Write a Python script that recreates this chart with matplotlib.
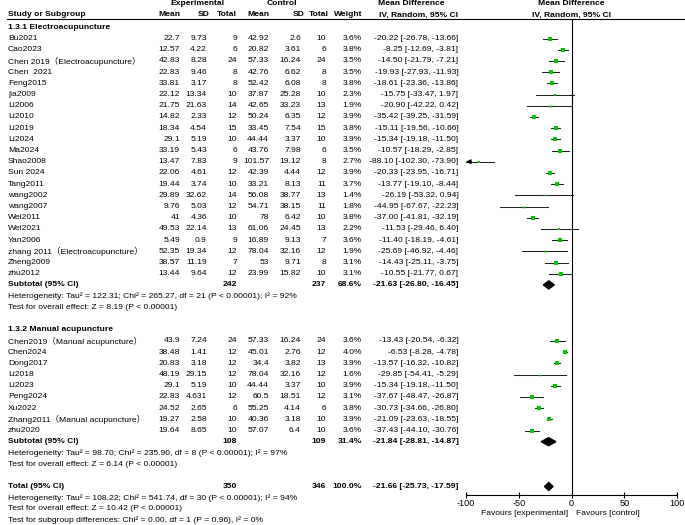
import matplotlib
matplotlib.use('Agg')
import matplotlib.pyplot as plt
from matplotlib.patches import Polygon

plt.rcParams['font.family'] = ['Liberation Sans', 'Noto Sans CJK SC', 'DejaVu Sans']

# ---- data ----
studies1 = ['Bu2021', 'Cao2023', 'Chen 2019（Electroacupuncture）', 'Chen  2021', 'Feng2015',
            'jia2009', 'Li2006', 'Li2010', 'Li2019', 'Li2024', 'Ma2024', 'Shao2008', 'Sun 2024',
            'Tang2011', 'wang2002', 'wang2007', 'Wei2011', 'Wei2021', 'Yan2006',
            'zhang 2011（Electroacupuncture）', 'Zheng2009', 'zhu2012']
exp_mean1 = [22.7, 12.57, 42.83, 22.83, 33.81, 22.12, 21.75, 14.82, 18.34, 29.1, 33.19, 13.47, 22.06,
             19.44, 29.89, 9.76, 41, 49.53, 5.49, 52.35, 38.57, 13.44]
exp_sd1 = [9.73, 4.22, 8.28, 9.46, 3.17, 13.34, 21.63, 2.33, 4.54, 5.19, 5.43, 7.83, 4.61,
           3.74, 32.62, 5.03, 4.36, 22.14, 0.9, 19.34, 11.19, 9.64]
exp_n1 = [9, 6, 24, 8, 8, 10, 14, 12, 15, 10, 6, 9, 12, 10, 14, 12, 10, 13, 9, 12, 7, 12]
ctl_mean1 = [42.92, 20.82, 57.33, 42.76, 52.42, 37.87, 42.65, 50.24, 33.45, 44.44, 43.76, 101.57, 42.39,
             33.21, 56.08, 54.71, 78, 61.06, 16.89, 78.04, 53, 23.99]
ctl_sd1 = [2.6, 3.61, 16.24, 6.62, 6.08, 25.28, 33.23, 6.35, 7.54, 3.37, 7.98, 19.12, 4.44,
           8.13, 38.77, 38.15, 6.42, 24.45, 9.13, 32.16, 9.71, 15.82]
ctl_n1 = [10, 6, 24, 8, 8, 10, 13, 12, 15, 10, 6, 8, 12, 11, 13, 11, 10, 13, 7, 12, 8, 10]
weight1 = [3.6, 3.8, 3.5, 3.5, 3.8, 2.3, 1.9, 3.9, 3.8, 3.9, 3.5, 2.7, 3.9,
           3.7, 1.4, 1.8, 3.8, 2.2, 3.6, 1.9, 3.1, 3.1]
md1 = [-20.22, -8.25, -14.50, -19.93, -18.61, -15.75, -20.90, -35.42, -15.11, -15.34, -10.57, -88.10, -20.33,
       -13.77, -26.19, -44.95, -37.00, -11.53, -11.40, -25.69, -14.43, -10.55]
lo1 = [-26.78, -12.69, -21.79, -27.93, -23.36, -33.47, -42.22, -39.25, -19.56, -19.18, -18.29, -102.30, -23.95,
       -19.10, -53.32, -67.67, -41.81, -29.46, -18.19, -46.92, -25.11, -21.77]
hi1 = [-13.66, -3.81, -7.21, -11.93, -13.86, 1.97, 0.42, -31.59, -10.66, -11.50, -2.85, -73.90, -16.71,
       -8.44, 0.94, -22.23, -32.19, 6.40, -4.61, -4.46, -3.75, 0.67]

studies2 = ['Chen2019（Manual acupuncture）', 'Chen2024', 'Dong2017', 'Li2018', 'Li2023', 'Peng2024',
            'Xu2022', 'Zhang2011（Manual acupuncture）', 'zhu2020']
exp_mean2 = [43.9, 38.48, 20.83, 48.19, 29.1, 22.83, 24.52, 19.27, 19.64]
exp_sd2 = [7.24, 1.41, 3.18, 29.15, 5.19, 4.631, 2.65, 2.58, 8.65]
exp_n2 = [24, 12, 12, 12, 10, 12, 6, 10, 10]
ctl_mean2 = [57.33, 45.01, 34.4, 78.04, 44.44, 60.5, 55.25, 40.36, 57.07]
ctl_sd2 = [16.24, 2.76, 3.82, 32.16, 3.37, 18.51, 4.14, 3.18, 6.4]
ctl_n2 = [24, 12, 13, 12, 10, 12, 6, 10, 10]
weight2 = [3.6, 4.0, 3.9, 1.6, 3.9, 3.1, 3.8, 3.9, 3.6]
md2 = [-13.43, -6.53, -13.57, -29.85, -15.34, -37.67, -30.73, -21.09, -37.43]
lo2 = [-20.54, -8.28, -16.32, -54.41, -19.18, -48.47, -34.66, -23.63, -44.10]
hi2 = [-6.32, -4.78, -10.82, -5.29, -11.50, -26.87, -26.80, -18.55, -30.76]

# subtotal / total: exp total, ctl total, weight, md, lo, hi
sub1 = [242, 237, 68.6, -21.63, -26.80, -16.45]
sub2 = [108, 109, 31.4, -21.84, -28.81, -14.87]
total = [350, 346, 100.0, -21.66, -25.73, -17.59]

het1 = 'Heterogeneity: Tau² = 122.31; Chi² = 265.27, df = 21 (P < 0.00001); I² = 92%'
eff1 = 'Test for overall effect: Z = 8.19 (P < 0.00001)'
het2 = 'Heterogeneity: Tau² = 98.70; Chi² = 235.90, df = 8 (P < 0.00001); I² = 97%'
eff2 = 'Test for overall effect: Z = 6.14 (P < 0.00001)'
het_t = 'Heterogeneity: Tau² = 108.22; Chi² = 541.74, df = 30 (P < 0.00001); I² = 94%'
eff_t = 'Test for overall effect: Z = 10.42 (P < 0.00001)'
sub_diff = 'Test for subgroup differences: Chi² = 0.00, df = 1 (P = 0.96), I² = 0%'

# ---- layout ----
FS = 6.1
W, H = 685, 525
PITCH = 11.2
Y0 = 27.3
top_row = -Y0 / PITCH
bot_row = (H - Y0) / PITCH
X_NAME, X_EM, X_ESD, X_EN, X_CM, X_CSD, X_CN, X_W, X_CI = 8, 180, 207, 237, 269, 301, 326, 362, 458.5
X_AX0, X_AX1 = 466, 677.3
GREEN = '#00c800'

fig = plt.figure(figsize=(W / 100, H / 100), dpi=100)
ax = fig.add_axes([0, 0, 1, 1])
ax.set_xlim(0, W)
ax.set_ylim(bot_row, top_row)
ax.axis('off')

axf = fig.add_axes([X_AX0 / W, 0, (X_AX1 - X_AX0) / W, 1])
axf.set_xlim(-100, 100)
axf.set_ylim(bot_row, top_row)
axf.patch.set_alpha(0)


def put(x, r, s, ha='left', bold=False):
    ax.text(x, r, s, ha=ha, va='center', fontsize=FS, fontweight='bold' if bold else 'normal')


# headers
put(197, -2.1, 'Experimental', ha='center', bold=True)
put(282, -2.1, 'Control', ha='center', bold=True)
put(411, -2.1, 'Mean Difference', ha='center', bold=True)
axf.text(0, -2.1, 'Mean Difference', ha='center', va='center', fontsize=FS, fontweight='bold')
put(X_NAME, -1.1, 'Study or Subgroup', bold=True)
for x, s in [(X_EM, 'Mean'), (X_ESD + 3, 'SD'), (X_EN, 'Total'), (X_CM, 'Mean'), (X_CSD + 4, 'SD'),
             (X_CN + 3, 'Total'), (X_W, 'Weight'), (X_CI, 'IV, Random, 95% CI')]:
    put(x, -1.1, s, ha='right', bold=True)
axf.text(0, -1.1, 'IV, Random, 95% CI', ha='center', va='center', fontsize=FS, fontweight='bold')
ax.plot([7, W], [-0.72, -0.72], color='black', lw=0.8)


def study_rows(r0, names, em, esd, en, cm, csd, cn, w, md, lo, hi):
    for i in range(len(names)):
        r = r0 + i
        put(X_NAME, r, names[i])
        put(X_EM, r, f'{em[i]:g}', ha='right')
        put(X_ESD, r, f'{esd[i]:g}', ha='right')
        put(X_EN, r, str(en[i]), ha='right')
        put(X_CM, r, f'{cm[i]:g}', ha='right')
        put(X_CSD, r, f'{csd[i]:g}', ha='right')
        put(X_CN, r, str(cn[i]), ha='right')
        put(X_W, r, f'{w[i]:.1f}%', ha='right')
        put(X_CI, r, f'{md[i]:.2f} [{lo[i]:.2f}, {hi[i]:.2f}]', ha='right')
        if lo[i] < -100:
            axf.plot([-100, hi[i]], [r, r], color='#222222', lw=0.75)
            axf.annotate('', xy=(-100, r), xytext=(-95, r),
                         arrowprops=dict(arrowstyle='-|>', color='black', lw=0.75,
                                         mutation_scale=7, shrinkA=0, shrinkB=0))
        else:
            axf.plot([lo[i], hi[i]], [r, r], color='#222222', lw=0.75)
        axf.plot(md[i], r, 's', color=GREEN, ms=w[i] * 0.75, mew=0)


def summary_row(r, label, vals):
    put(X_NAME, r, label, bold=True)
    put(X_EN, r, str(vals[0]), ha='right', bold=True)
    put(X_CN, r, str(vals[1]), ha='right', bold=True)
    put(X_W, r, f'{vals[2]:.1f}%', ha='right', bold=True)
    put(X_CI, r, f'{vals[3]:.2f} [{vals[4]:.2f}, {vals[5]:.2f}]', ha='right', bold=True)
    h = 0.36
    axf.add_patch(Polygon([(vals[4], r), (vals[3], r - h), (vals[5], r), (vals[3], r + h)],
                          closed=True, color='black'))


put(X_NAME, 0, '1.3.1 Electroacupuncture', bold=True)
study_rows(1, studies1, exp_mean1, exp_sd1, exp_n1, ctl_mean1, ctl_sd1, ctl_n1, weight1, md1, lo1, hi1)
summary_row(23, 'Subtotal (95% CI)', sub1)
put(X_NAME, 24, het1)
put(X_NAME, 25, eff1)

put(X_NAME, 27, '1.3.2 Manual acupuncture', bold=True)
study_rows(28, studies2, exp_mean2, exp_sd2, exp_n2, ctl_mean2, ctl_sd2, ctl_n2, weight2, md2, lo2, hi2)
summary_row(37, 'Subtotal (95% CI)', sub2)
put(X_NAME, 38, het2)
put(X_NAME, 39, eff2)

summary_row(41, 'Total (95% CI)', total)
put(X_NAME, 42, het_t)
put(X_NAME, 43, eff_t)
put(X_NAME, 44, sub_diff)

# forest axis
axis_row = (495 - Y0) / PITCH
axf.plot([0, 0], [-0.72, axis_row], color='black', lw=0.8)
for s in ['top', 'right', 'left']:
    axf.spines[s].set_visible(False)
axf.spines['bottom'].set_position(('data', axis_row))
axf.spines['bottom'].set_bounds(-100, 100)
axf.spines['bottom'].set_linewidth(0.8)
axf.set_yticks([])
axf.set_xticks([-100, -50, 0, 50, 100])
axf.set_xticklabels(['-100', '-50', '0', '50', '100'])
axf.tick_params(axis='x', direction='inout', length=5, width=0.8, labelsize=FS + 0.5, pad=0.5)
fav_row = (513.5 - Y0) / PITCH
axf.text(-3.8, fav_row, 'Favours [experimental]', ha='right', va='center', fontsize=FS)
axf.text(3.8, fav_row, 'Favours [control]', ha='left', va='center', fontsize=FS)

fig.savefig('out.png', dpi=100)
